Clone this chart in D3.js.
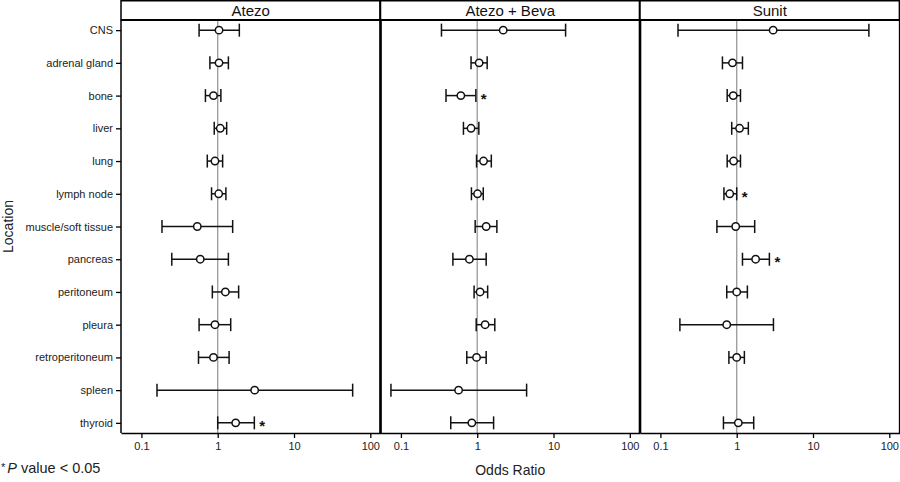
<!DOCTYPE html>
<html>
<head>
<meta charset="utf-8">
<script src="https://cdn.jsdelivr.net/npm/d3@7"></script>
<style>
body { margin: 0; background: #fff; }
text { font-family: "Liberation Sans", Arial, sans-serif; }
</style>
</head>
<body>
<div id="chart"></div>
<script>
// data
let locations = ["CNS", "adrenal gland", "bone", "liver", "lung", "lymph node",
    "muscle/soft tissue", "pancreas", "peritoneum", "pleura", "retroperitoneum",
    "spleen", "thyroid"];
let arms = ["Atezo", "Atezo + Beva", "Sunit"];
let xTicks = [0.1, 1, 10, 100];

let atezoOR  = [1.04, 1.04, 0.88, 1.08, 0.92, 1.03, 0.54, 0.59, 1.26, 0.92, 0.88, 3.05, 1.72];
let atezoLo  = [0.57, 0.79, 0.69, 0.90, 0.73, 0.83, 0.186, 0.25, 0.85, 0.57, 0.56, 0.16, 1.0];
let atezoHi  = [1.92, 1.38, 1.10, 1.31, 1.16, 1.28, 1.57, 1.38, 1.88, 1.48, 1.41, 58.7, 3.02];
let atezoSig = [0, 0, 0, 0, 0, 0, 0, 0, 0, 0, 0, 0, 1];

let combOR  = [2.19, 1.06, 0.61, 0.83, 1.21, 1.01, 1.31, 0.79, 1.09, 1.27, 0.98, 0.57, 0.85];
let combLo  = [0.34, 0.83, 0.39, 0.66, 0.98, 0.84, 0.94, 0.48, 0.91, 0.97, 0.73, 0.074, 0.45];
let combHi  = [14.4, 1.35, 0.96, 1.05, 1.53, 1.20, 1.81, 1.31, 1.37, 1.70, 1.31, 4.44, 1.64];
let combSig = [0, 0, 1, 0, 0, 0, 0, 0, 0, 0, 0, 0, 0];

let sunitOR  = [3.0, 0.88, 0.90, 1.09, 0.91, 0.81, 0.97, 1.77, 1.0, 0.74, 1.0, null, 1.05];
let sunitLo  = [0.17, 0.65, 0.75, 0.86, 0.75, 0.68, 0.55, 1.19, 0.74, 0.18, 0.79, null, 0.67];
let sunitHi  = [54, 1.19, 1.12, 1.42, 1.12, 1.0, 1.72, 2.68, 1.38, 3.03, 1.26, null, 1.67];
let sunitSig = [0, 0, 0, 0, 0, 1, 0, 1, 0, 0, 0, 0, 0];

let armData = [
    {or: atezoOR, lo: atezoLo, hi: atezoHi, sig: atezoSig},
    {or: combOR, lo: combLo, hi: combHi, sig: combSig},
    {or: sunitOR, lo: sunitLo, hi: sunitHi, sig: sunitSig}
];

let svgWidth = 900;
let svgHeight = 482;
let left = 121;
let panelW = 259.5;
let stripTop = 0.75;
let plotTop = 20;
let plotBottom = 433;

let svg = d3.select("#chart")
    .append("svg")
    .attr("width", svgWidth)
    .attr("height", svgHeight);

let yScale = d3.scalePoint()
    .domain(locations)
    .range([plotTop, plotBottom])
    .padding(0.31);

let xScale = d3.scaleLog()
    .domain([0.054, 136])
    .range([0, panelW]);

// y axis (only on the first panel)
let leftAxis = d3.axisLeft(yScale).tickSize(5).tickPadding(3).tickSizeOuter(0);
let yaxis = svg.append("g")
    .attr("transform", `translate(${left}, 0)`)
    .call(leftAxis);
yaxis.select(".domain").remove();
yaxis.selectAll("line").attr("stroke", "#000").attr("stroke-width", 1.3);
yaxis.selectAll("text")
    .attr("font-size", "11px")
    .attr("fill", "#222")
    .style("font-family", "'Liberation Sans', Arial, sans-serif");

arms.forEach(function(arm, i) {
    let d = armData[i];
    let g = svg.append("g").attr("transform", `translate(${left + i * panelW}, 0)`);

    // strip header
    g.append("rect")
        .attr("x", 0).attr("y", stripTop)
        .attr("width", panelW).attr("height", plotTop - stripTop)
        .attr("fill", "#fff").attr("stroke", "#000").attr("stroke-width", 1.5);
    g.append("text")
        .attr("x", panelW / 2).attr("y", 10.5)
        .attr("text-anchor", "middle")
        .attr("dominant-baseline", "central")
        .attr("font-size", "15px")
        .attr("fill", "#111")
        .text(arm);

    // reference line at OR = 1
    g.append("line")
        .attr("x1", xScale(1)).attr("x2", xScale(1))
        .attr("y1", plotTop).attr("y2", plotBottom)
        .attr("stroke", "#999").attr("stroke-width", 1.3);

    // x axis
    let bottomAxis = d3.axisBottom(xScale)
        .tickValues(xTicks)
        .tickFormat(d3.format("~g"))
        .tickSize(5).tickSizeOuter(0).tickPadding(4);
    let xaxis = g.append("g")
        .attr("transform", `translate(0, ${plotBottom})`)
        .call(bottomAxis);
    xaxis.select(".domain").attr("stroke", "#000").attr("stroke-width", 1.5);
    xaxis.selectAll("line").attr("stroke", "#000").attr("stroke-width", 1.3);
    xaxis.selectAll("text")
        .attr("font-size", "11px")
        .attr("fill", "#222")
        .style("font-family", "'Liberation Sans', Arial, sans-serif");

    // panel side borders
    g.append("line")
        .attr("x1", 0).attr("x2", 0)
        .attr("y1", plotTop).attr("y2", plotBottom)
        .attr("stroke", "#000").attr("stroke-width", i === 0 ? 1.5 : 1.4);
    g.append("line")
        .attr("x1", panelW).attr("x2", panelW)
        .attr("y1", stripTop).attr("y2", plotBottom)
        .attr("stroke", "#000").attr("stroke-width", i === 2 ? 1.3 : 2.6);
    g.append("line")
        .attr("x1", 0).attr("x2", panelW)
        .attr("y1", plotTop).attr("y2", plotTop)
        .attr("stroke", "#000").attr("stroke-width", 2.2);

    let rows = locations.map((loc, k) => ({
        loc: loc, or: d.or[k], lo: d.lo[k], hi: d.hi[k], sig: d.sig[k]
    })).filter(r => r.or !== null);

    let bars = g.selectAll(".bar")
        .data(rows)
        .enter()
        .append("g")
        .attr("class", "bar");

    bars.append("line")
        .attr("x1", r => xScale(r.lo)).attr("x2", r => xScale(r.hi))
        .attr("y1", r => yScale(r.loc)).attr("y2", r => yScale(r.loc))
        .attr("stroke", "#111").attr("stroke-width", 1.5);
    bars.append("line")
        .attr("x1", r => xScale(r.lo)).attr("x2", r => xScale(r.lo))
        .attr("y1", r => yScale(r.loc) - 6.5).attr("y2", r => yScale(r.loc) + 6.5)
        .attr("stroke", "#111").attr("stroke-width", 1.5);
    bars.append("line")
        .attr("x1", r => xScale(r.hi)).attr("x2", r => xScale(r.hi))
        .attr("y1", r => yScale(r.loc) - 6.5).attr("y2", r => yScale(r.loc) + 6.5)
        .attr("stroke", "#111").attr("stroke-width", 1.5);
    bars.append("circle")
        .attr("cx", r => xScale(r.or))
        .attr("cy", r => yScale(r.loc))
        .attr("r", 3.7)
        .attr("fill", "#fff")
        .attr("stroke", "#111")
        .attr("stroke-width", 1.5);

    bars.filter(r => r.sig === 1)
        .append("text")
        .attr("x", r => xScale(r.hi) + 5)
        .attr("y", r => yScale(r.loc) + 8)
        .attr("font-size", "15px")
        .attr("font-weight", "bold")
        .attr("fill", "#111")
        .text("*");
});

// axis titles
svg.append("text")
    .attr("x", left + panelW * 1.5)
    .attr("y", 475)
    .attr("text-anchor", "middle")
    .attr("font-size", "14px")
    .attr("fill", "#222")
    .text("Odds Ratio");

svg.append("text")
    .attr("transform", `translate(13, ${(plotTop + plotBottom) / 2}) rotate(-90)`)
    .attr("text-anchor", "middle")
    .attr("font-size", "14px")
    .attr("fill", "#222")
    .text("Location");

// footnote
let note = svg.append("text")
    .attr("x", 1)
    .attr("y", 473)
    .attr("font-size", "14.5px")
    .attr("fill", "#222");
note.append("tspan").attr("font-size", "11px").attr("dy", "-2").text("*");
note.append("tspan").attr("dy", "2").attr("dx", "2").attr("font-style", "italic").text("P");
note.append("tspan").text(" value < 0.05");
</script>
</body>
</html>
